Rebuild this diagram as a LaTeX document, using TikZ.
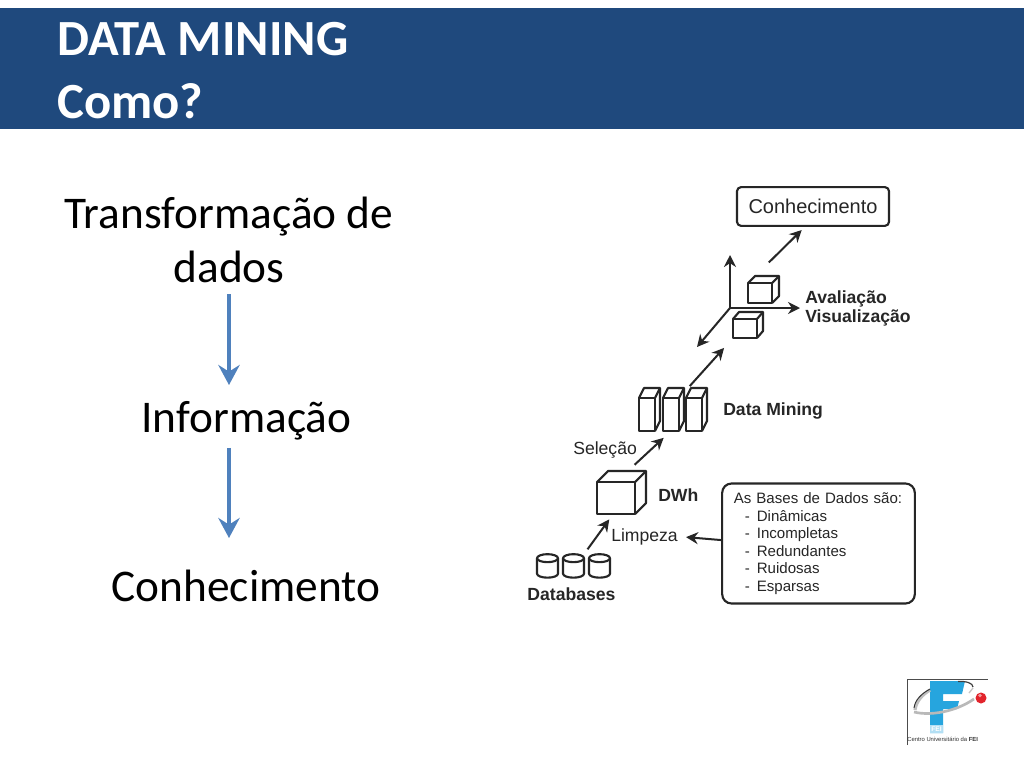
\documentclass[tikz,border=0pt]{standalone}
\usepackage{fontspec}
\usepackage{tikz}
\usepackage{xcolor}
\usetikzlibrary{arrows.meta,calc,shapes.geometric}
\setmainfont{Carlito}
\setsansfont{Liberation Sans}
\definecolor{bandblue}{RGB}{31,73,125}
\definecolor{arrowblue}{RGB}{79,129,189}
\definecolor{figgray}{RGB}{38,38,38}
\definecolor{feicyan}{RGB}{38,165,222}
\definecolor{feired}{RGB}{226,36,44}
\tikzset{
  titletext/.style={anchor=base west, text=white, font=\fontsize{38}{38}\selectfont\bfseries, inner sep=0pt},
  bodytext/.style={text=black, font=\fontsize{34}{41}\selectfont, align=center, inner sep=0pt},
  bluearrow/.style={arrowblue, line width=3.6pt, -{Stealth[length=15pt,width=16pt,inset=5pt]}},
  figline/.style={figgray, line width=1.6pt, line join=round},
  figarrow/.style={figgray, line width=1.5pt, -{Stealth[length=9pt,width=9pt]}},
  figlabel/.style={text=figgray, font=\sffamily\fontsize{13.2}{15}\selectfont, inner sep=0pt},
  figbold/.style={figlabel, font=\sffamily\bfseries\fontsize{13.2}{15}\selectfont},
  facebox/.style={figline, draw, outer sep=0pt, inner sep=0pt}
}
% name, x, y, w, h, depth x, depth y
\newcommand{\blockicon}[7]{
  \node[facebox, anchor=north west, minimum width=#4*0.75pt, minimum height=#5*0.75pt] (#1) at (#2,#3) {};
  \draw[figline] (#1.north west) -- ++(#6,-#7) -- ++(#4,0) -- ++(0,#5) -- (#1.south east);
  \draw[figline] (#1.north east) -- ++(#6,-#7);
}
\newcommand{\dashitem}[1]{\makebox[17.25pt][l]{\hspace{8.25pt}-}#1}

\begin{document}
\begin{tikzpicture}[x=0.75pt, y=-0.75pt, >=Stealth]
    \useasboundingbox (0,0) rectangle (1024,768);
    \fill[white] (0,0) rectangle (1024,768);
    % Title band
    \fill[bandblue] (0,8) rectangle (1024,129);
    \node[titletext] (titleone) at (57,55.5) {DATA MINING};
    \node[titletext] (titletwo) at (57,118) {Como?};

    % Left column
    \node[bodytext] (transform) at (229,240) {Transformação de\\dados};
    \node[bodytext] (information) at (246.5,421) {Informação};
    \node[bodytext] (knowledge) at (246,586) {Conhecimento};
    \coordinate (infotop) at (229,385);
    \coordinate (knowtop) at (229,538);
    \draw[bluearrow, shorten <=8pt] (transform.south) -- (infotop);
    \draw[bluearrow, shorten <=5.5pt] (information.south -| infotop) -- (knowtop);

    % Figure: icons
    \foreach \i/\x in {1/537,2/563,3/589}{
        \node[minimum width=15.75pt, minimum height=17pt, outer sep=0pt, inner sep=0pt] (base\i) at (\x+10.5,565.5) {};
        \draw[figline] (base\i.north) ++(0,4) ellipse [x radius=10.5, y radius=4];
        \draw[figline] (base\i.north west) ++(0,4) -- ++(0,15.5) arc[start angle=180, end angle=0, x radius=10.5, y radius=4] -- ++(0,-15.5);
    }
    \blockicon{dwh}{597}{482}{38}{32}{11}{11}
    \foreach \i/\x in {1/639,2/663,3/686}{
        \blockicon{mining\i}{\x}{398}{16}{33}{5}{10}
    }
    \blockicon{cubelow}{733}{319}{24}{19}{6}{7}
    \blockicon{cubeup}{748}{283}{24}{20}{7}{7}

    % Figure: texts
    \node[figbold, anchor=base] (databases) at (571.5,600) {Databases};
    \node[figbold, anchor=base west] (dwhtext) at (658,501) {DWh};
    \node[figlabel, anchor=base west] (limpeza) at (611,541) {Limpeza};
    \node[figlabel, anchor=base west] (selecao) at (573,454) {Seleção};
    \node[figbold, anchor=base west] (miningtext) at (723,415) {Data Mining};
    \node[figbold, anchor=base west] (avaliacao) at (805,303) {Avaliação};
    \node[figbold, anchor=base west] (visualizacao) at (805,322) {Visualização};
    \node[figline, draw, rounded corners=3pt, minimum width=114pt, minimum height=29pt, outer sep=0pt,
          figlabel, inner sep=0pt, font=\sffamily\fontsize{15}{17}\selectfont] (knowbox) at (813,206.5) {Conhecimento};
    \node[figline, draw, rounded corners=7pt, minimum width=144.5pt, minimum height=90pt, outer sep=0pt,
          figlabel, align=left, text width=127pt, font=\sffamily\fontsize{11.3}{13.1}\selectfont] (basesbox) at (818.5,543.5)
          {As Bases de Dados são:\\\dashitem{Dinâmicas}\\\dashitem{Incompletas}\\\dashitem{Redundantes}\\\dashitem{Ruidosas}\\\dashitem{Esparsas}};

    % Figure: axes
    \coordinate (axiszero) at (730,308);
    \coordinate (axisup) at (730,255);
    \coordinate (axisright) at (800,308);
    \coordinate (axisdown) at (697,347);
    \draw[figarrow] (axiszero) -- (axisup);
    \draw[figarrow] (axiszero) -- (axisright);
    \draw[figarrow] (axiszero) -- (axisdown);

    % Figure: arrows
    \draw[figarrow, shorten <=4.5pt, shorten >=5pt] (base2.north east) -- (dwh.-100);
    \draw[figarrow, shorten <=19pt, shorten >=7.5pt] (dwh.north) -- (mining2.south);
    \draw[figarrow, shorten <=12pt, shorten >=10pt] (mining2.north east) -- (cubelow.south west);
    \draw[figarrow, shorten <=22pt, shorten >=4.5pt] (cubeup.north west) -- (knowbox.250);
    \draw[figarrow, shorten >=6pt] (basesbox.178) -- (limpeza.east);

    % Logo
    \draw[black!70, line width=0.4pt] (907,745) -- (907,679) -- (988,679);
    \fill[feicyan] (930,681) -- (965,681) -- (962,694) -- (943,694) -- (943,701) -- (959,701) -- (957,709) -- (943,709) -- (943,733) -- (930,733) -- cycle;
    \fill[feicyan!35] (930,725) rectangle (943,733);
    \draw[gray!50, line width=2.4pt] (915,710) .. controls (916,701) and (923,694) .. (930,690);
    \draw[black!80, line width=0.7pt] (914,708) .. controls (915,700) and (921,694) .. (930,689);
    \draw[black!75, line width=0.9pt] (958,681.5) .. controls (966,681) and (973,683) .. (973,687);
    \draw[gray!45, line width=1pt] (973,688) -- (969,693);
    \draw[gray!55, line width=2pt] (914,712) .. controls (930,716) and (955,712) .. (974,699);
    \fill[feired] (981,698) circle (5.5);
    \fill[white!55!feired] (980,695.5) circle (1.8);
    \node[text=white, font=\sffamily\bfseries\fontsize{5}{5}\selectfont, inner sep=0pt] (feitext) at (936.5,729) {FEI};
    \node[text=black!80, font=\sffamily\fontsize{4.4}{5}\selectfont, inner sep=0pt, anchor=west] (feiname) at (907,739.5) {Centro Universitário da \textbf{FEI}};
\end{tikzpicture}
\end{document}
